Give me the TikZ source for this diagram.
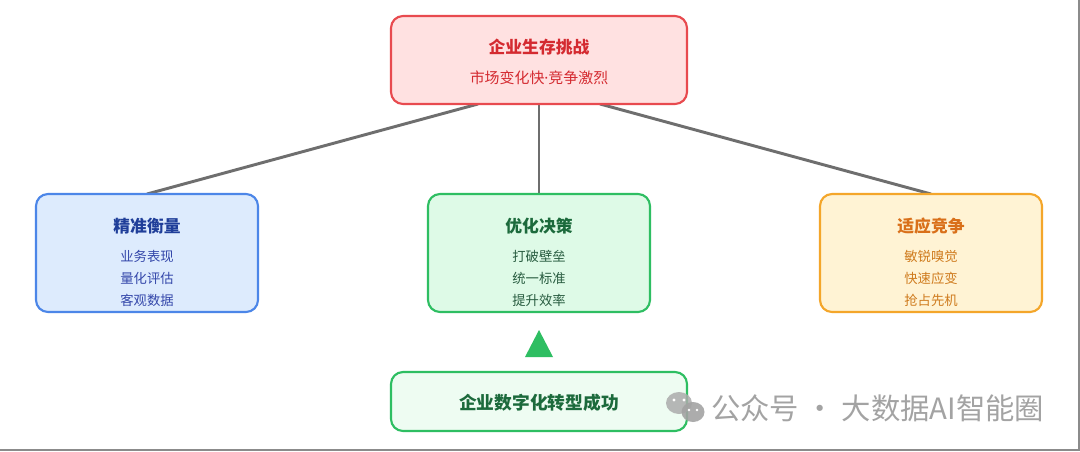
\documentclass[tikz,border=0pt]{standalone}
\usepackage{fontspec}
\setmainfont{Noto Sans CJK SC}
\newfontfamily\cjk{Noto Sans CJK SC}
\newfontfamily\latdot{Noto Sans}
\usetikzlibrary{calc}
\definecolor{redB}{HTML}{E84A4F}
\definecolor{redF}{HTML}{FFE1E1}
\definecolor{redT}{HTML}{D42A30}
\definecolor{bluB}{HTML}{4C86E8}
\definecolor{bluF}{HTML}{DDEBFD}
\definecolor{bluT}{HTML}{1F3E99}
\definecolor{bluS}{HTML}{3447AA}
\definecolor{grnB}{HTML}{2EBE62}
\definecolor{grnF}{HTML}{DEFAE7}
\definecolor{grnF2}{HTML}{EEFCF2}
\definecolor{grnT}{HTML}{1C6A3C}
\definecolor{grnS}{HTML}{285C40}
\definecolor{oraB}{HTML}{F4A62A}
\definecolor{oraF}{HTML}{FFF3D4}
\definecolor{oraT}{HTML}{D9701A}
\definecolor{oraS}{HTML}{CF7B1E}
\definecolor{lineC}{HTML}{6E6E6E}
\definecolor{wmC}{HTML}{A3A3A3}
\begin{document}
\begin{tikzpicture}[x=0.75pt,y=-0.75pt,
  box/.style={draw, line width=1.6pt, rounded corners=9pt},
  ttl/.style={font=\cjk\bfseries\fontsize{12.6}{15}\selectfont, anchor=center, inner sep=0pt},
  sub/.style={font=\cjk\fontsize{10}{12}\selectfont, anchor=center, inner sep=0pt},
  conn/.style={draw=lineC, line width=2.2pt}]
\useasboundingbox (0,0) rectangle (1080,451);
\fill[white] (0,0) rectangle (1080,451);
\draw[lineC!80, line width=1.5pt] (0,450) -- (1079,450) -- (1079,0);
% connectors
\coordinate (t1) at (478,104);
\coordinate (t2) at (539,104);
\coordinate (t3) at (600,104);
\coordinate (l1) at (147,194);
\coordinate (m1) at (539,194);
\coordinate (r1) at (931,194);
\draw[conn] (t1) -- (l1);
\draw[conn] (t2) -- (m1);
\draw[conn] (t3) -- (r1);
% boxes
\draw[box, draw=redB, fill=redF] (391,16) rectangle (687,104);
\node[ttl, text=redT] (top) at (539,47) {企业生存挑战};
\node[sub, text=redT, font=\cjk\fontsize{11.2}{13}\selectfont] (tops) at (539,78) {市场变化快{\latdot ·}竞争激烈};

\draw[box, draw=bluB, fill=bluF] (36,194) rectangle (258,312);
\node[ttl, text=bluT] (lt) at (147,226) {精准衡量};
\node[sub, text=bluS] (l2) at (147,256) {业务表现};
\node[sub, text=bluS] (l3) at (147,278) {量化评估};
\node[sub, text=bluS] (l4) at (147,300) {客观数据};

\draw[box, draw=grnB, fill=grnF] (428,194) rectangle (650,312);
\node[ttl, text=grnT] (mt) at (539,226) {优化决策};
\node[sub, text=grnS] (m2) at (539,256) {打破壁垒};
\node[sub, text=grnS] (m3) at (539,278) {统一标准};
\node[sub, text=grnS] (m4) at (539,300) {提升效率};

\draw[box, draw=oraB, fill=oraF] (820,194) rectangle (1042,312);
\node[ttl, text=oraT] (rt) at (931,226) {适应竞争};
\node[sub, text=oraS] (r2) at (931,256) {敏锐嗅觉};
\node[sub, text=oraS] (r3) at (931,278) {快速应变};
\node[sub, text=oraS] (r4) at (931,300) {抢占先机};

% triangle
\fill[grnB] (539,330) -- (553,357) -- (525,357) -- cycle;

\draw[box, draw=grnB, fill=grnF2] (391,372) rectangle (687,431);
\node[ttl, text=grnT, font=\cjk\bfseries\fontsize{13.3}{15}\selectfont] (bot) at (539,403) {企业数字化转型成功};

% watermark
\fill[wmC!90, opacity=0.85] (679,403) ellipse (13 and 11);
\fill[wmC, opacity=0.9] (693,412) ellipse (11.5 and 10);
\fill[white] (674,400) circle (1.6) (684,400) circle (1.6);
\fill[white] (689,410) circle (1.4) (697,410) circle (1.4);
\node[font=\cjk\fontsize{22}{26}\selectfont, text=wmC, anchor=west, inner sep=0pt] (wm) at (711,408) {公众号 · 大数据AI智能圈};
\end{tikzpicture}
\end{document}
